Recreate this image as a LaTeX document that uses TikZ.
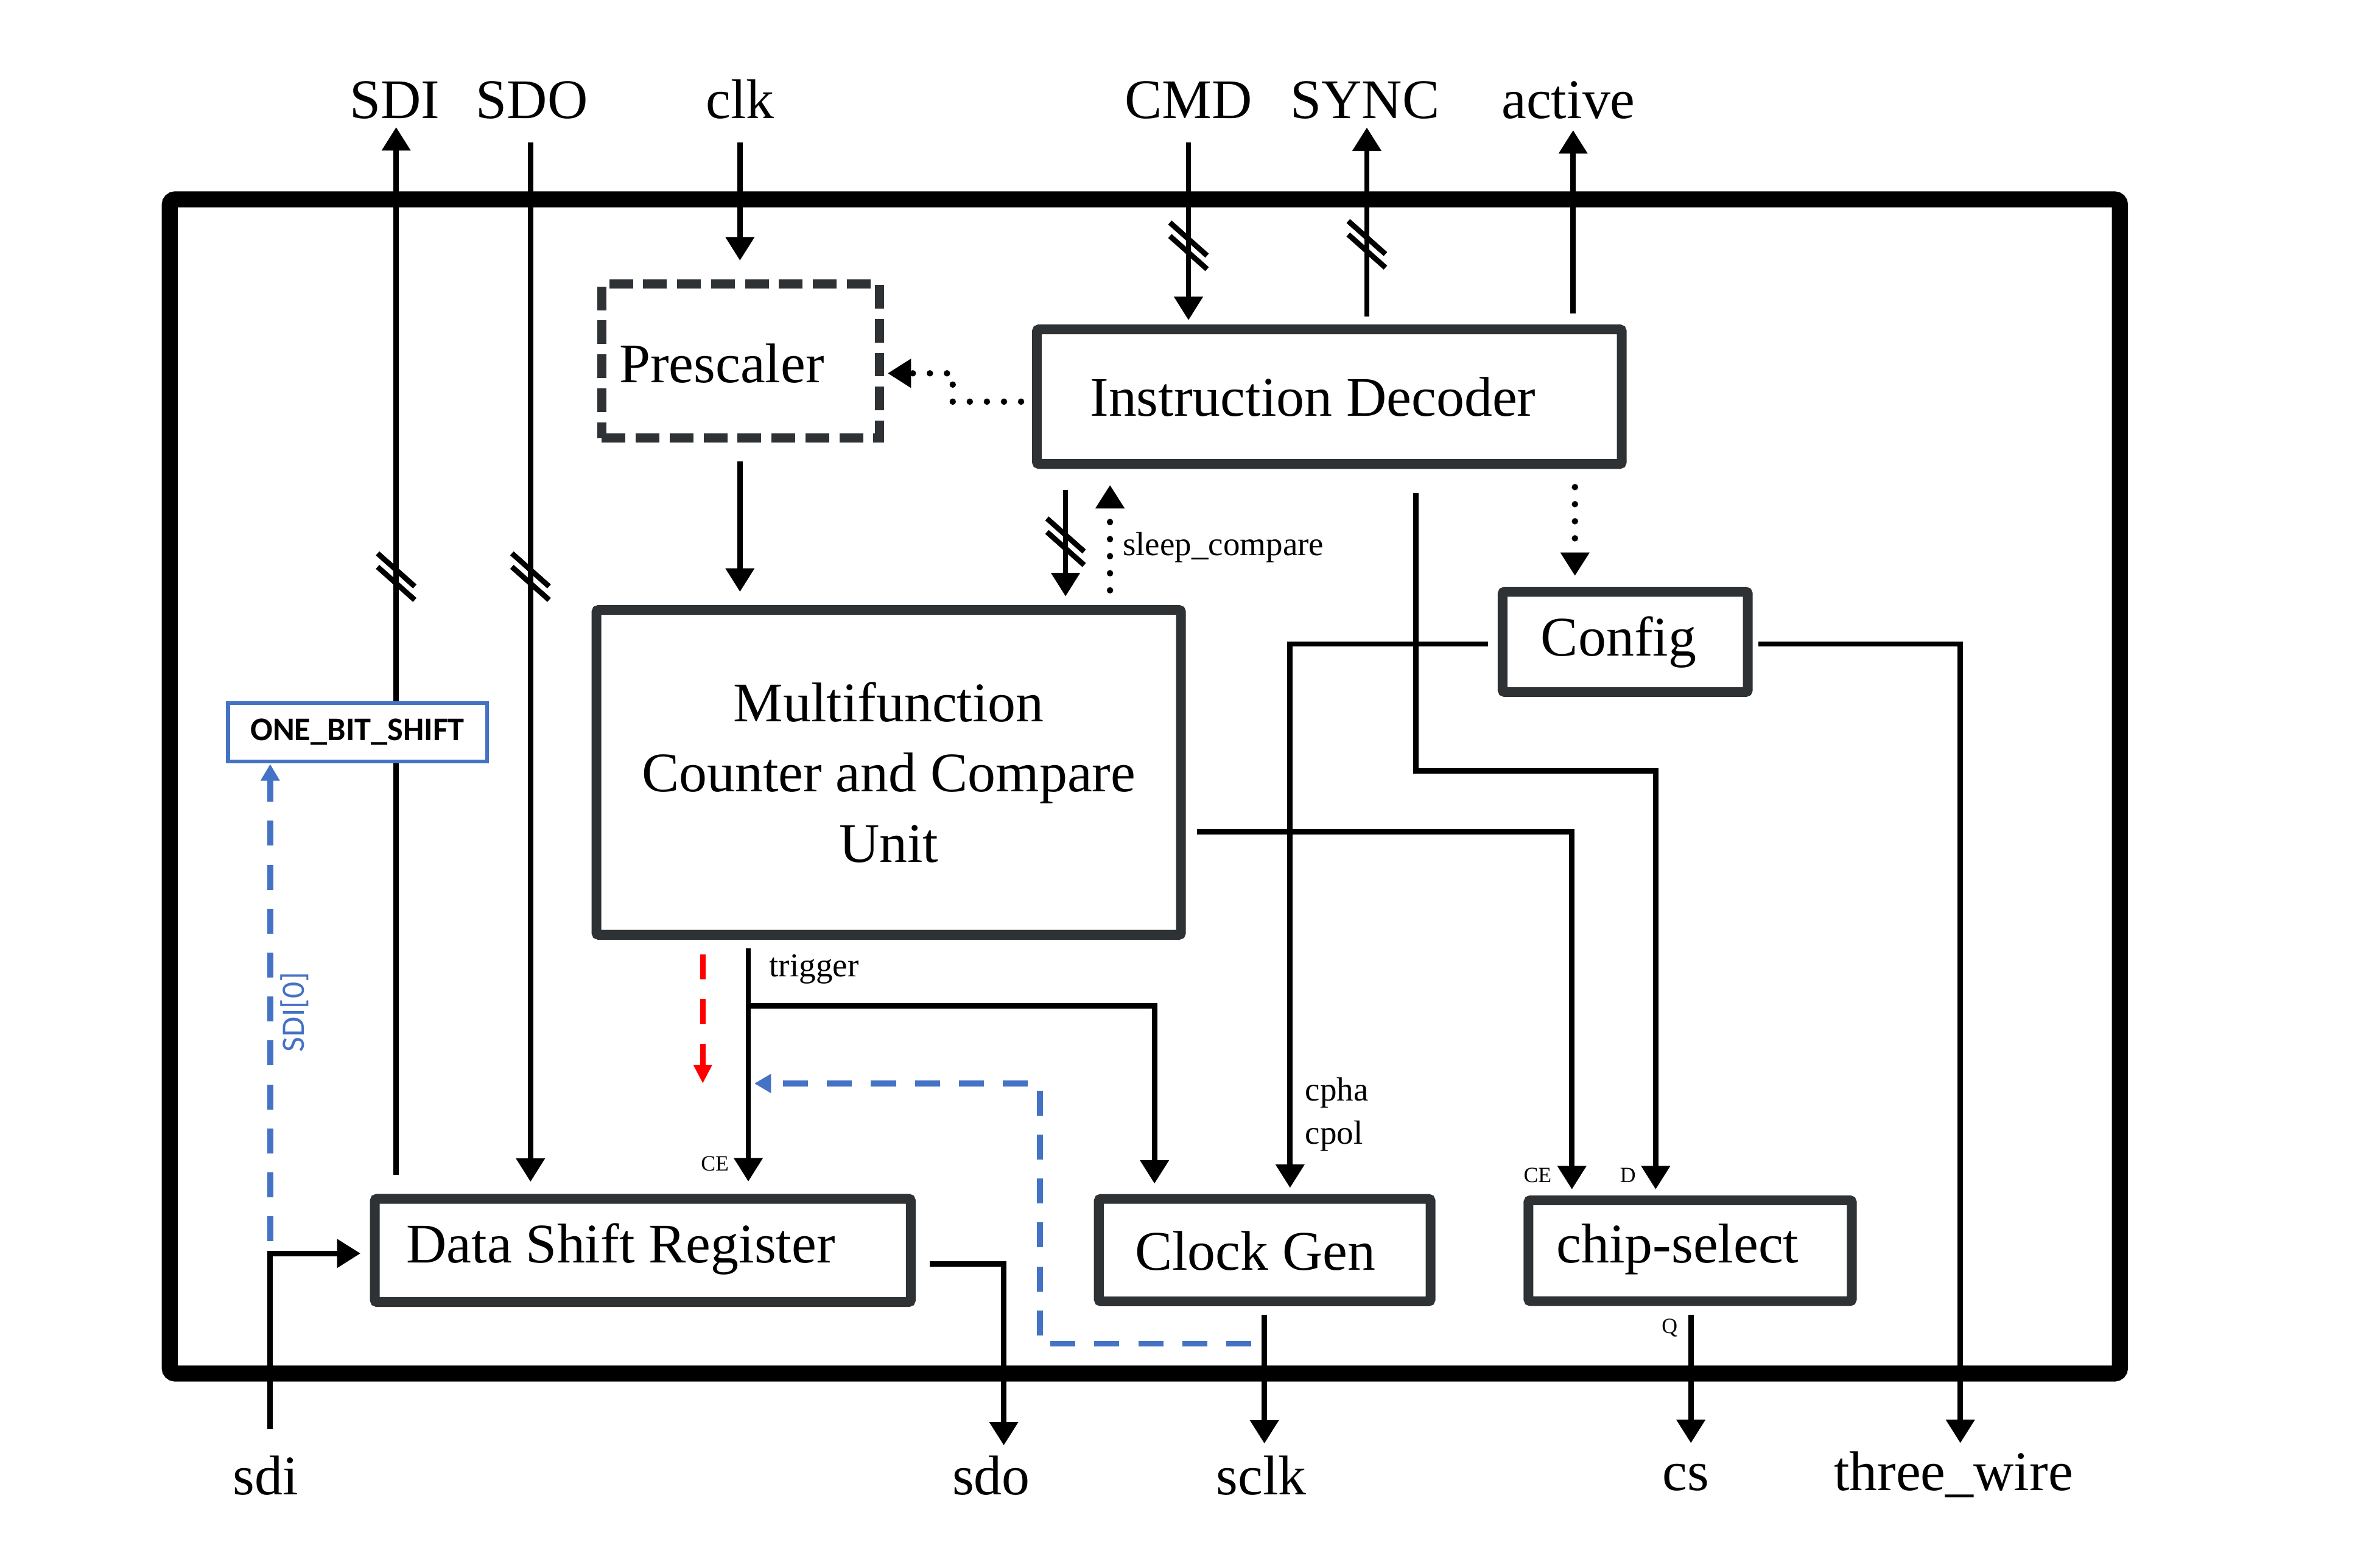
\documentclass[tikz,border=0pt]{standalone}
\usepackage{fontspec}
\setmainfont{Liberation Serif}
\newfontfamily\calib{Carlito}
\usetikzlibrary{arrows.meta}
\definecolor{boxgray}{HTML}{2E3235}
\definecolor{oblue}{HTML}{4472C4}
\definecolor{ored}{HTML}{FF0000}
\begin{document}
\begin{tikzpicture}[x=0.025cm,y=-0.025cm,
  thinl/.style={line width=2.5pt, draw=black},
  arr/.style={thinl, -{Triangle[width=13pt,length=11pt]}},
  blk/.style={draw=boxgray, line width=4.6pt, rounded corners=1pt, inner sep=0pt, outer sep=0pt},
  prebox/.style={draw=boxgray, line width=4.3pt, dash pattern=on 11.1pt off 4.8pt, inner sep=0pt},
  framebox/.style={draw=black, line width=7.5pt, rounded corners=2.5pt, inner sep=0pt},
  big/.style={font=\fontsize{26.2}{32.9}\selectfont},
  small/.style={font=\fontsize{15.7}{19}\selectfont},
  tinyl/.style={font=\fontsize{10.2}{12}\selectfont},
  dotl/.style={line width=3pt, dash pattern=on 0pt off 8pt, line cap=round},
  dotarr/.style={dotl, -{Triangle[width=13pt,length=11pt]}},
  bluearr/.style={draw=oblue, line width=2.8pt, dash pattern=on 11.7pt off 8.9pt, -{Triangle[width=8.5pt,length=7.8pt]}},
  redarr/.style={draw=ored, line width=2.6pt, dash pattern=on 11.7pt off 9.2pt, -{Triangle[width=8.2pt,length=8.7pt]}},
  bslash/.pic={\draw[thinl] (-12.25,-15.35) -- (12.25,6.45); \draw[thinl] (-12.25,-6.45) -- (12.25,15.35);}
]
\useasboundingbox (0,0) rectangle (1568,1033);

% outer frame
\node[framebox, minimum width=32.1125cm, minimum height=19.3375cm] (frame) at (754.25,518.25) {};

% blocks
\node[prebox, minimum width=4.575cm, minimum height=2.54cm] (pre) at (488,237.8) {};
\node[big, anchor=base] (tpre) at (475.5,252.3) {Prescaler};

\node[blk, minimum width=9.63cm, minimum height=2.2175cm] (id) at (875.8,261.4) {};
\node[big, anchor=base] (tid) at (865,274) {Instruction Decoder};

\node[blk, big, align=center, minimum width=9.625cm, minimum height=5.35cm] (mccu) at (585.5,509)
  {Multifunction\\Counter and Compare\\Unit};

\node[blk, minimum width=4.0375cm, minimum height=1.65cm] (cfg) at (1070.7,423) {};
\node[big, anchor=base] (tcfg) at (1066.4,432.4) {Config};

\node[blk, minimum width=8.825cm, minimum height=1.7cm] (dsr) at (423.5,824) {};
\node[big, anchor=base] (tdsr) at (409,832) {Data Shift Register};

\node[blk, minimum width=5.4625cm, minimum height=1.6875cm] (cg) at (833.2,823.8) {};
\node[big, anchor=base] (tcg) at (827,837) {Clock Gen};

\node[blk, minimum width=5.325cm, minimum height=1.6625cm] (cs) at (1113.5,824.2) {};
\node[big, anchor=base] (tcs) at (1105.3,832) {chip-select};

% port labels
\node[big, anchor=base] (lsdi) at (260,78) {SDI};
\node[big, anchor=base] (lsdo) at (350.5,78) {SDO};
\node[big, anchor=base] (lclk) at (487.5,78) {clk};
\node[big, anchor=base] (lcmd) at (783,78) {CMD};
\node[big, anchor=base] (lsync) at (899.3,78) {SYNC};
\node[big, anchor=base] (lact) at (1033.3,78) {active};
\node[big, anchor=base] (lsdib) at (175,985) {sdi};
\node[big, anchor=base] (lsdob) at (653,985) {sdo};
\node[big, anchor=base] (lsclk) at (831,985) {sclk};
\node[big, anchor=base] (lcs) at (1110.5,982) {cs};
\node[big, anchor=base] (l3w) at (1287,982) {three\_wire};

% signal labels
\node[small, anchor=base west, inner sep=0pt] (lsleep) at (739.5,366) {sleep\_compare};
\node[small, anchor=base west, inner sep=0pt] (ltrig) at (506.6,643.6) {trigger};
\node[small, anchor=base west, inner sep=0pt] (lcpha) at (859.6,725.6) {cpha};
\node[small, anchor=base west, inner sep=0pt] (lcpol) at (859.6,754) {cpol};
\node[tinyl, anchor=base] (lce1) at (471,771.5) {CE};
\node[tinyl, anchor=base] (lce2) at (1013,779) {CE};
\node[tinyl, anchor=base] (ld) at (1072.5,779) {D};
\node[tinyl, anchor=base] (lq) at (1100,878.5) {Q};
\node[text=oblue, rotate=90, inner sep=0pt, font=\calib\fontsize{15.3}{18}\selectfont] (lsdi0) at (194,667) {SDI[0]};

% coordinates
\coordinate (sdiT) at (261,83.8);   \coordinate (sdiB) at (261,774);
\coordinate (sdoT) at (349.5,94);   \coordinate (sdoB) at (349.5,778.8);
\coordinate (clkT) at (487.5,94);   \coordinate (clkB) at (487.5,171.7);
\coordinate (preB) at (487.5,304);  \coordinate (mccuT) at (487.5,390);
\coordinate (cmdT) at (783,94);     \coordinate (cmdB) at (783,211);
\coordinate (syncT) at (900.5,84);  \coordinate (syncB) at (900.5,208.4);
\coordinate (actT) at (1036.4,85.8);\coordinate (actB) at (1036.4,206.6);
\coordinate (idL) at (672.7,264.7); \coordinate (dk1) at (627.7,264.7);
\coordinate (dk2) at (627.7,246);   \coordinate (preR) at (584.8,246);
\coordinate (busT) at (702,323);    \coordinate (busB) at (702,393);
\coordinate (slpB) at (731.3,389);  \coordinate (slpT) at (731.3,319.6);
\coordinate (cfgT0) at (1037.6,321);\coordinate (cfgT) at (1037.6,379.5);
\coordinate (dA) at (932.8,325);    \coordinate (dB) at (932.8,508);
\coordinate (dC) at (1090.8,508);   \coordinate (dD) at (1090.8,783.8);
\coordinate (cfgL) at (980.4,424.4);\coordinate (cfgL1) at (849.9,424.4);
\coordinate (cgT2) at (849.9,782.8);
\coordinate (cfgR) at (1158.5,424.4);\coordinate (cfgR1) at (1291.5,424.4);
\coordinate (twB) at (1291.5,951);
\coordinate (mR) at (788.6,548);    \coordinate (mR1) at (1035.6,548);
\coordinate (ceB) at (1035.6,783.8);
\coordinate (trT) at (493,625);     \coordinate (trB) at (493,778.6);
\coordinate (trJ) at (493,663);     \coordinate (trJ1) at (760.6,663);
\coordinate (cgT1) at (760.6,780);
\coordinate (rT) at (463,629);      \coordinate (rB) at (463,714);
\coordinate (bA) at (824.3,885.5);  \coordinate (bB) at (685,885.5);
\coordinate (bC) at (685,714);      \coordinate (bD) at (497,714);
\coordinate (b2A) at (178,818);     \coordinate (b2B) at (178,503.5);
\coordinate (sdiIn) at (178,941.8); \coordinate (sdiK) at (178,826);
\coordinate (dsrL) at (237.5,826);
\coordinate (dsrR) at (612.7,833);  \coordinate (sdoK) at (661.3,833);
\coordinate (sdoOut) at (661.3,952.5);
\coordinate (sclkT) at (833,866.4); \coordinate (sclkB) at (833,951.3);
\coordinate (csT) at (1114,866.5);  \coordinate (csB) at (1114,951);

% connectors
\draw[arr] (sdiB) -- (sdiT);
\draw[arr] (sdoT) -- (sdoB);
\draw[arr] (clkT) -- (clkB);
\draw[arr] (preB) -- (mccuT);
\draw[arr] (cmdT) -- (cmdB);
\draw[arr] (syncB) -- (syncT);
\draw[arr] (actB) -- (actT);
\draw[dotarr] (idL) -- (dk1) -- (dk2) -- (preR);
\draw[arr] (busT) -- (busB);
\draw[dotarr] (slpB) -- (slpT);
\draw[dotarr] (cfgT0) -- (cfgT);
\draw[arr] (dA) -- (dB) -- (dC) -- (dD);
\draw[arr] (cfgL) -- (cfgL1) -- (cgT2);
\draw[arr] (cfgR) -- (cfgR1) -- (twB);
\draw[arr] (mR) -- (mR1) -- (ceB);
\draw[arr] (trT) -- (trB);
\draw[arr] (trJ) -- (trJ1) -- (cgT1);
\draw[redarr] (rT) -- (rB);
\draw[bluearr] (bA) -- (bB) -- (bC) -- (bD);
\draw[bluearr] (b2A) -- (b2B);
\draw[arr] (sdiIn) -- (sdiK) -- (dsrL);
\draw[arr] (dsrR) -- (sdoK) -- (sdoOut);
\draw[arr] (sclkT) -- (sclkB);
\draw[arr] (csT) -- (csB);

% bus slashes
\pic at (261,380) {bslash};
\pic at (349.5,380) {bslash};
\pic at (783,162) {bslash};
\pic at (900.5,161) {bslash};
\pic at (702,357) {bslash};

% ONE_BIT_SHIFT box on top of the SDI line
\node[draw=oblue, fill=white, line width=1.8pt, inner sep=0pt, minimum width=4.265cm, minimum height=0.965cm,
  font=\calib\bfseries\fontsize{15.5}{18}\selectfont] (one) at (235.5,482.5) {ONE\_BIT\_SHIFT};
\end{tikzpicture}
\end{document}
